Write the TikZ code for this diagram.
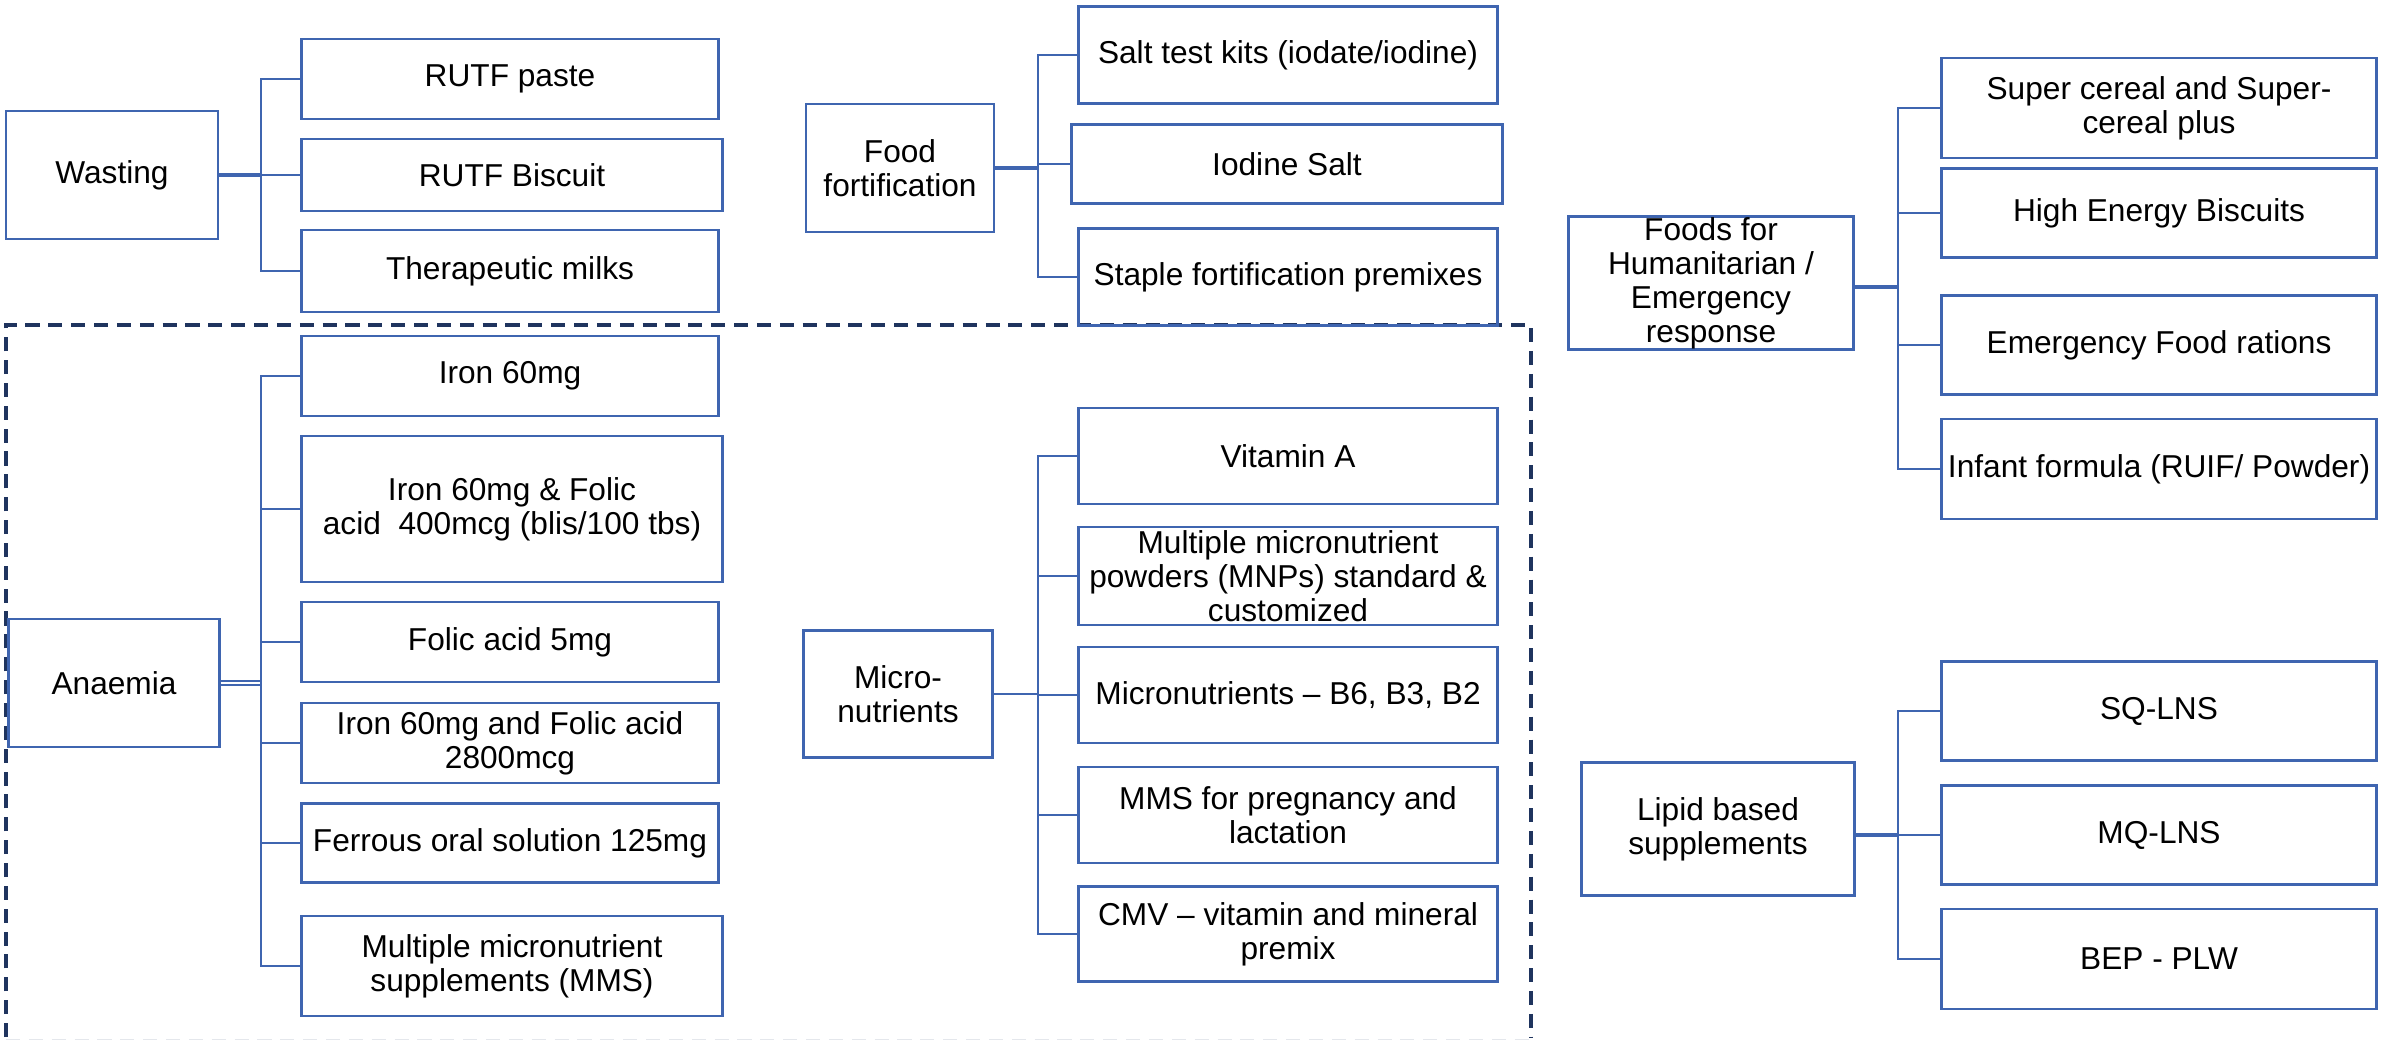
\documentclass[tikz,border=0pt]{standalone}
\usepackage{fontspec}
\setmainfont{Liberation Sans}
\definecolor{boxblue}{RGB}{63,101,176}
\definecolor{dashnavy}{RGB}{31,52,94}

\begin{document}
\begin{tikzpicture}[x=0.01cm,y=-0.01cm,
	font=\fontsize{9}{9.7}\selectfont,
	box/.style={draw=boxblue,line width=0.7pt,align=center,inner sep=1pt},
	leaf/.style={box,minimum width=4.17cm},
	link/.style={draw=boxblue,line width=0.7pt},
	stem/.style={draw=boxblue,line width=1.2pt}]
	\useasboundingbox (0,0) rectangle (2392,1040);

	% dashed frame round anaemia and micronutrients
	\begin{scope}
		\clip (0,0) rectangle (2392,1040);
		\draw[dashnavy,line width=0.9pt,dash pattern=on 4pt off 2.5pt] (6,1037) -- (6,325) -- (1531,325) -- (1531,1037);
		\draw[dashnavy!12,line width=0.9pt,dash pattern=on 4pt off 2.5pt] (6,1041) -- (1531,1041);
	\end{scope}

	% wasting
	\node[box,minimum width=2.12cm,minimum height=1.28cm] (wasting) at (112,175) {Wasting};
	\node[leaf,minimum height=0.80cm] (paste) at (510,79) {RUTF paste};
	\node[leaf,minimum width=4.21cm,minimum height=0.72cm] (biscuit) at (512,175) {RUTF Biscuit};
	\node[leaf,minimum height=0.82cm] (milks) at (510,271) {Therapeutic milks};
	\coordinate (wt) at (261,0);
	\draw[stem] (wasting.east) -- (wasting.east -| wt);
	\foreach \c in {paste,biscuit,milks}
		\draw[link] (wasting.east -| wt) |- (\c.west);

	% food fortification
	\node[box,minimum width=1.88cm,minimum height=1.28cm] (fortif) at (900,168) {Food\\fortification};
	\node[leaf,minimum width=4.19cm,minimum height=0.97cm] (kits) at (1288,55) {Salt test kits (iodate/iodine)};
	\node[leaf,minimum width=4.31cm,minimum height=0.79cm] (iodine) at (1287,164) {Iodine Salt};
	\node[leaf,minimum width=4.19cm,minimum height=0.97cm] (premix) at (1288,277) {Staple fortification premixes};
	\coordinate (ft) at (1038,0);
	\draw[stem] (fortif.east) -- (fortif.east -| ft);
	\foreach \c in {kits,iodine,premix}
		\draw[link] (fortif.east -| ft) |- (\c.west);

	% anaemia
	\node[box,minimum width=2.11cm,minimum height=1.28cm] (anaemia) at (114,683) {Anaemia};
	\node[leaf,minimum height=0.80cm] (iron) at (510,376) {Iron 60mg};
	\node[leaf,minimum width=4.21cm,minimum height=1.46cm] (ironfolic) at (512,509) {Iron 60mg \& Folic\\acid\ \ 400mcg (blis/100 tbs)};
	\node[leaf,minimum height=0.80cm] (folic) at (510,642) {Folic acid 5mg};
	\node[leaf,minimum height=0.80cm] (ironhigh) at (510,743) {Iron 60mg and Folic acid\\2800mcg};
	\node[leaf,minimum height=0.79cm] (ferrous) at (510,843) {Ferrous oral solution 125mg};
	\node[leaf,minimum width=4.21cm,minimum height=1.00cm] (mms) at (512,966) {Multiple micronutrient\\supplements (MMS)};
	\coordinate (at) at (261,0);
	\draw[stem,double=white,double distance=0.6pt,line width=0.5pt] (anaemia.east) -- (anaemia.east -| at);
	\foreach \c in {iron,ironfolic,folic,ironhigh,ferrous,mms}
		\draw[link] (anaemia.east -| at) |- (\c.west);

	% micronutrients
	\node[box,minimum width=1.89cm,minimum height=1.27cm] (micro) at (898,694) {Micro-\\nutrients};
	\node[leaf,minimum width=4.19cm,minimum height=0.96cm] (vita) at (1288,456) {Vitamin A};
	\node[leaf,minimum width=4.19cm,minimum height=0.96cm] (mnp) at (1288,576) {Multiple micronutrient\\powders (MNPs) standard \&\\customized};
	\node[leaf,minimum width=4.19cm,minimum height=0.96cm] (bvit) at (1288,695) {Micronutrients – B6, B3, B2};
	\node[leaf,minimum width=4.19cm,minimum height=0.96cm] (preg) at (1288,815) {MMS for pregnancy and\\lactation};
	\node[leaf,minimum width=4.19cm,minimum height=0.95cm] (cmv) at (1288,934) {CMV – vitamin and mineral\\premix};
	\coordinate (mt) at (1038,0);
	\draw[link] (micro.east) -- (micro.east -| mt);
	\foreach \c in {vita,mnp,bvit,preg,cmv}
		\draw[link] (micro.east -| mt) |- (\c.west);

	% humanitarian / emergency
	\node[box,minimum width=2.85cm,minimum height=1.33cm,inner sep=0pt] (human) at (1711,283) {Foods for\\Humanitarian /\\Emergency\\response};
	\node[leaf,minimum width=4.35cm,minimum height=1.00cm] (cereal) at (2159,108) {Super cereal and Super-\\cereal plus};
	\node[leaf,minimum width=4.35cm,minimum height=0.89cm] (hebs) at (2159,213) {High Energy Biscuits};
	\node[leaf,minimum width=4.35cm,minimum height=0.99cm] (rations) at (2159,345) {Emergency Food rations};
	\node[leaf,minimum width=4.35cm,minimum height=1.00cm,inner sep=0pt] (infant) at (2159,469) {Infant formula (RUIF/ Powder)};
	\coordinate (ht) at (1898,0);
	\draw[stem] ([yshift=-0.04cm]human.east) -- ([yshift=-0.04cm]human.east -| ht);
	\foreach \c in {cereal,hebs,rations,infant}
		\draw[link] ([yshift=-0.04cm]human.east -| ht) |- (\c.west);

	% lipid based
	\node[box,minimum width=2.73cm,minimum height=1.33cm] (lipid) at (1718,829) {Lipid based\\supplements};
	\node[leaf,minimum width=4.35cm,minimum height=0.99cm] (sq) at (2159,711) {SQ-LNS};
	\node[leaf,minimum width=4.35cm,minimum height=0.99cm] (mq) at (2159,835) {MQ-LNS};
	\node[leaf,minimum width=4.35cm,minimum height=1.00cm] (bep) at (2159,959) {BEP - PLW};
	\coordinate (lt) at (1898,0);
	\draw[stem] (lipid.east |- mq.west) -- (mq.west -| lt);
	\foreach \c in {sq,mq,bep}
		\draw[link] (mq.west -| lt) |- (\c.west);

\end{tikzpicture}
\end{document}
